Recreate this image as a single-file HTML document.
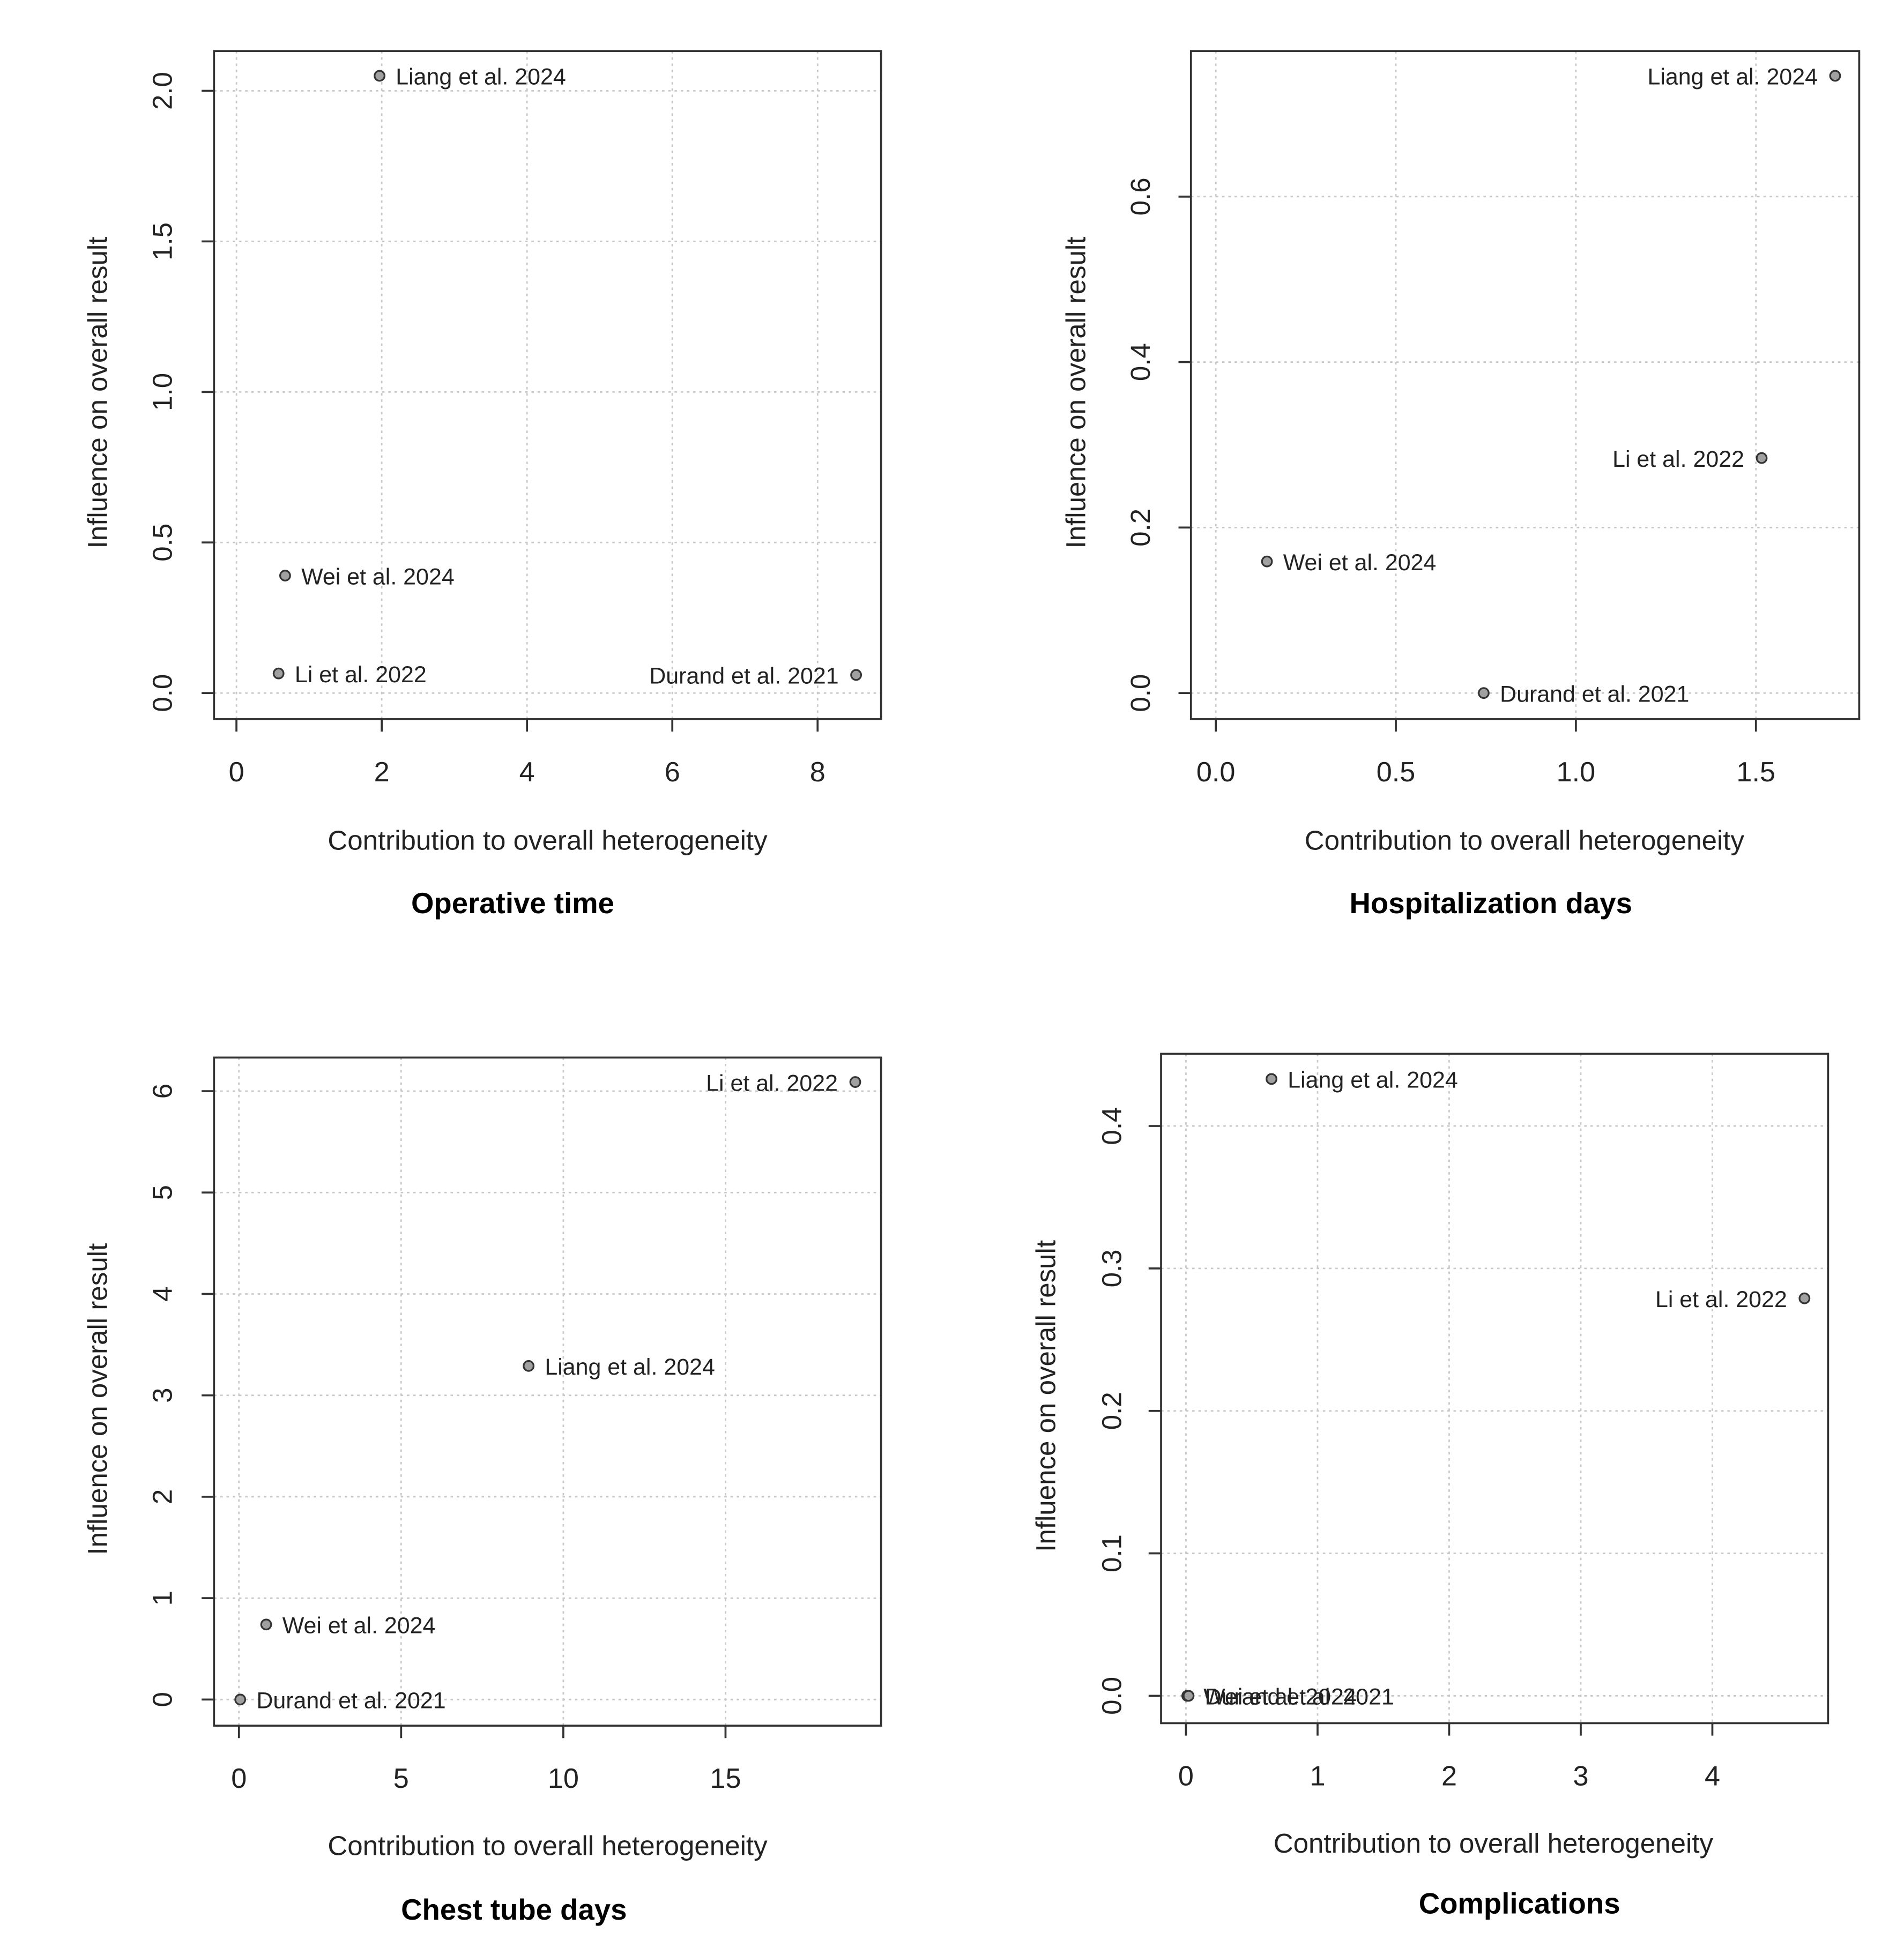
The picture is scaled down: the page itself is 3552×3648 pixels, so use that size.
<!DOCTYPE html>
<html><head><meta charset="utf-8"><style>
html,body{margin:0;padding:0;background:#fff;}
svg{display:block;}
text{font-family:"Liberation Sans",Arial,sans-serif;fill:#222;}
.title{font-weight:bold;fill:#000;}
</style></head><body>
<svg id="fig" xmlns="http://www.w3.org/2000/svg" width="3552" height="3648" viewBox="0 0 1530 1571.3"></svg>
<script>
// ---- Panel 1: Operative time ----
const opStudies = ["Liang et al. 2024","Wei et al. 2024","Li et al. 2022","Durand et al. 2021"];
const opX = [1.97, 0.67, 0.58, 8.53];
const opY = [2.05, 0.39, 0.065, 0.06];
const opXTicks = [0,2,4,6,8];
const opYTicks = ["0.0","0.5","1.0","1.5","2.0"];
// ---- Panel 2: Hospitalization days ----
const hdStudies = ["Liang et al. 2024","Li et al. 2022","Wei et al. 2024","Durand et al. 2021"];
const hdX = [1.72, 1.516, 0.142, 0.744];
const hdY = [0.746, 0.284, 0.159, 0.0];
const hdXTicks = ["0.0","0.5","1.0","1.5"];
const hdYTicks = ["0.0","0.2","0.4","0.6"];
// ---- Panel 3: Chest tube days ----
const ctStudies = ["Li et al. 2022","Liang et al. 2024","Wei et al. 2024","Durand et al. 2021"];
const ctX = [19.0, 8.93, 0.84, 0.04];
const ctY = [6.09, 3.29, 0.74, 0.0];
const ctXTicks = [0,5,10,15];
const ctYTicks = [0,1,2,3,4,5,6];
// ---- Panel 4: Complications ----
const cpStudies = ["Liang et al. 2024","Li et al. 2022","Wei et al. 2024","Durand et al. 2021"];
const cpX = [0.65, 4.70, 0.01, 0.02];
const cpY = [0.433, 0.279, 0.0, 0.0];
const cpXTicks = [0,1,2,3,4];
const cpYTicks = ["0.0","0.1","0.2","0.3","0.4"];

const NS="http://www.w3.org/2000/svg";
const svg=document.getElementById('fig');
function mk(tag,attrs,parent){const e=document.createElementNS(NS,tag);for(const k in attrs)e.setAttribute(k,attrs[k]);(parent||svg).appendChild(e);return e;}

const panels=[
 {name:"operative-time",title:"Operative time",studies:opStudies,xs:opX,ys:opY,xt:opXTicks,yt:opYTicks,
  box:[172,41,708,578],xm:[0,190,8,657],ym:[0,557,2,73],left:[false,false,false,true],ylabX:78,ytX:130,xtY:620,xlabY:675,xlabX:440,titleX:412,titleY:726},
 {name:"hospitalization-days",title:"Hospitalization days",studies:hdStudies,xs:hdX,ys:hdY,xt:hdXTicks,yt:hdYTicks,
  box:[957,41,1494,578],xm:[0,977,1.5,1411],ym:[0,557,0.6,158],left:[true,true,false,false],ylabX:864,ytX:916,xtY:620,xlabY:675,xlabX:1225,titleX:1198,titleY:726},
 {name:"chest-tube-days",title:"Chest tube days",studies:ctStudies,xs:ctX,ys:ctY,xt:ctXTicks,yt:ctYTicks,
  box:[172,850,708,1387],xm:[0,192,15,583],ym:[0,1366,6,877],left:[true,false,false,false],ylabX:78,ytX:130,xtY:1429,xlabY:1483,xlabX:440,titleX:413,titleY:1535},
 {name:"complications",title:"Complications",studies:cpStudies,xs:cpX,ys:cpY,xt:cpXTicks,yt:cpYTicks,
  box:[933,847,1469,1385],xm:[0,953,4,1376],ym:[0,1363,0.4,905],left:[false,true,false,false],ylabX:840,ytX:893,xtY:1427,xlabY:1481,xlabX:1200,titleX:1221,titleY:1530}
];

panels.forEach(p=>{
  const g=mk('g',{});
  
  
  const sx=v=>p.xm[1]+(v-p.xm[0])*(p.xm[3]-p.xm[1])/(p.xm[2]-p.xm[0]);
  const sy=v=>p.ym[1]+(v-p.ym[0])*(p.ym[3]-p.ym[1])/(p.ym[2]-p.ym[0]);
  const [bx0,by0,bx1,by1]=p.box;
  p.xt.forEach(t=>{const x=sx(+t);
    const l=mk('line',{x1:x,x2:x,y1:by0,y2:by1,stroke:'#c8c8c8','stroke-width':1.2,'stroke-dasharray':'2,3'},g);
    });
  p.yt.forEach(t=>{const y=sy(+t);
    const l=mk('line',{x1:bx0,x2:bx1,y1:y,y2:y,stroke:'#c8c8c8','stroke-width':1.2,'stroke-dasharray':'2,3'},g);
    });
  const r=mk('rect',{x:bx0,y:by0,width:bx1-bx0,height:by1-by0,fill:'none',stroke:'#333','stroke-width':1.6},g);
  
  p.xt.forEach(t=>{const x=sx(+t);
    mk('line',{x1:x,x2:x,y1:by1,y2:by1+10,stroke:'#333','stroke-width':1.6},g);
    const tx=mk('text',{x:x,y:p.xtY+8,'font-size':22.5,'text-anchor':'middle'},g);tx.textContent=t;
    });
  p.yt.forEach(t=>{const y=sy(+t);
    mk('line',{x1:bx0,x2:bx0-10,y1:y,y2:y,stroke:'#333','stroke-width':1.6},g);
    const tx=mk('text',{x:p.ytX+8,y:y,'font-size':22,'text-anchor':'middle',transform:`rotate(-90 ${p.ytX+8} ${y})`},g);tx.textContent=t;
    });
  const xl=mk('text',{x:p.xlabX,y:p.xlabY+8,'font-size':22,'text-anchor':'middle'},g);
  xl.textContent='Contribution to overall heterogeneity';
  
  const cy=(by0+by1)/2+6;
  const yl=mk('text',{x:p.ylabX+8,y:cy,'font-size':22,'text-anchor':'middle',transform:`rotate(-90 ${p.ylabX+8} ${cy})`},g);
  yl.textContent='Influence on overall result';
  
  const tt=mk('text',{x:p.titleX,y:p.titleY+8,'font-size':23.5,'text-anchor':'middle',class:'title'},g);
  tt.textContent=p.title;
  
  p.studies.forEach((s,i)=>{const x=sx(p.xs[i]),y=sy(p.ys[i]);
    const c=mk('circle',{cx:x,cy:y,r:4,fill:'#a0a0a0',stroke:'#333','stroke-width':1.4},g);
    
    const lt=mk('text',{x:p.left[i]?x-14:x+13,y:y+7,'font-size':18.5,'text-anchor':p.left[i]?'end':'start'},g);
    lt.textContent=s;
    });
});
</script>
</body></html>
